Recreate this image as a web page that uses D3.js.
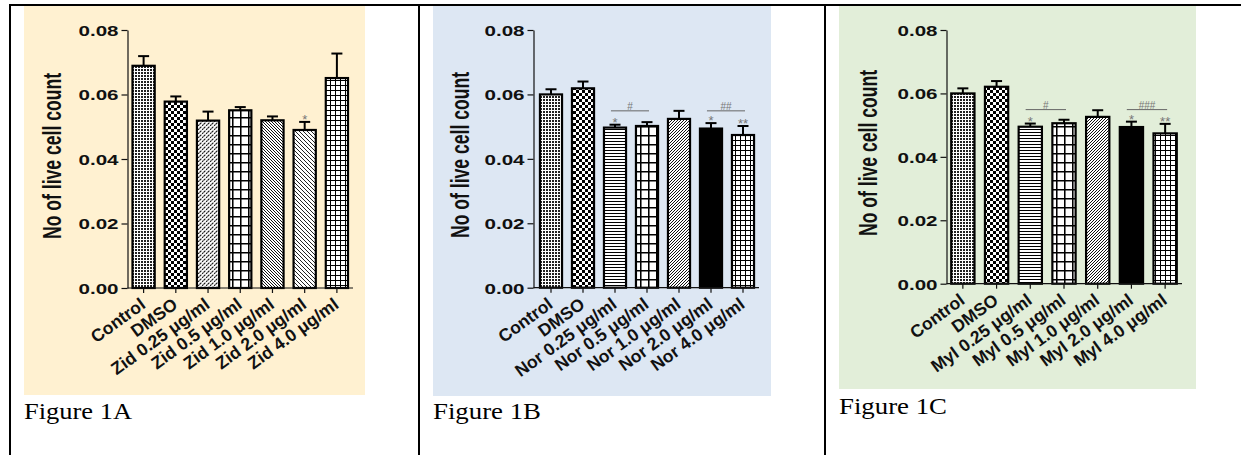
<!DOCTYPE html>
<html>
<head>
<meta charset="utf-8">
<script src="https://cdn.jsdelivr.net/npm/d3@7"></script>
<style>
  body { margin: 0; background: #fff; }
  svg { display: block; }
  .sans { font-family: "Liberation Sans", Arial, Helvetica, sans-serif; }
  .serif { font-family: "Liberation Serif", "Times New Roman", Times, serif; }
</style>
</head>
<body>
<svg id="fig" width="1241" height="455"></svg>
<script>
// group names per figure
var groupsA = ["Control", "DMSO", "Zid 0.25 μg/ml", "Zid 0.5 μg/ml", "Zid 1.0 μg/ml", "Zid 2.0 μg/ml", "Zid 4.0 μg/ml"];
var groupsB = ["Control", "DMSO", "Nor 0.25 μg/ml", "Nor 0.5 μg/ml", "Nor 1.0 μg/ml", "Nor 2.0 μg/ml", "Nor 4.0 μg/ml"];
var groupsC = ["Control", "DMSO", "Myl 0.25 μg/ml", "Myl 0.5 μg/ml", "Myl 1.0 μg/ml", "Myl 2.0 μg/ml", "Myl 4.0 μg/ml"];

// means and SEM
var meanA = [0.0689, 0.0578, 0.0519, 0.0551, 0.0520, 0.0490, 0.0651];
var semA  = [0.0030, 0.0016, 0.0028, 0.0010, 0.0012, 0.0025, 0.0076];
var meanB = [0.0600, 0.0619, 0.0497, 0.0502, 0.0524, 0.0494, 0.0474];
var semB  = [0.0016, 0.0021, 0.0009, 0.0012, 0.0025, 0.0017, 0.0028];
var meanC = [0.0600, 0.0621, 0.0495, 0.0506, 0.0526, 0.0494, 0.0474];
var semC  = [0.0016, 0.0018, 0.0010, 0.0011, 0.0021, 0.0017, 0.0030];

// significance marks
var starsA = ["", "", "", "", "", "*", ""];
var starsB = ["", "", "*", "", "", "*", "**"];
var starsC = ["", "", "*", "", "", "*", "**"];
var hashA = [];
var hashB = [{ from: 2, to: 3, label: "#" }, { from: 5, to: 6, label: "##" }];
var hashC = [{ from: 2, to: 3, label: "#" }, { from: 5, to: 6, label: "###" }];
var hashLevel = 0.0549;

var yTicks = [0, 0.02, 0.04, 0.06, 0.08];
var yLabel = "No of live cell count";
var captions = ["Figure 1A", "Figure 1B", "Figure 1C"];

var patternsA = ["dots", "checker", "dashDiag", "bigGrid", "backDense", "backSparse", "smallGrid"];
var patternsBC = ["dots", "checker", "hLines", "bigGrid", "fwdDense", "solid", "smallGrid"];

var svg = d3.select("#fig");
var defs = svg.append("defs");

// ---- fill patterns -----
function pat(id, w, h) {
  var p = defs.append("pattern").attr("id", id)
    .attr("patternUnits", "userSpaceOnUse")
    .attr("width", w).attr("height", h);
  p.append("rect").attr("width", w).attr("height", h).attr("fill", "#fff");
  return p;
}
var p;
p = pat("dots", 3, 3);
p.append("rect").attr("width", 2).attr("height", 2).attr("fill", "#222");
p = pat("checker", 6, 6);
p.append("rect").attr("width", 3).attr("height", 3).attr("fill", "#000");
p.append("rect").attr("x", 3).attr("y", 3).attr("width", 3).attr("height", 3).attr("fill", "#000");
p = pat("dashDiag", 4, 4);
p.append("path").attr("d", "M0,4L4,0M-1,1L1,-1M3,5L5,3").attr("stroke", "#111").attr("stroke-width", 1.1).attr("stroke-dasharray", "2,1");
p = pat("bigGrid", 8, 9);
p.append("path").attr("d", "M0,0.75H8M0.75,0V9").attr("stroke", "#000").attr("stroke-width", 1.6);
p = pat("backDense", 3, 3);
p.append("path").attr("d", "M0,0L3,3M-1,2L1,4M2,-1L4,1").attr("stroke", "#111").attr("stroke-width", 1);
p = pat("backSparse", 4, 4);
p.append("path").attr("d", "M0,0L4,4M-1,3L1,5M3,-1L5,1").attr("stroke", "#222").attr("stroke-width", 1);
p = pat("smallGrid", 5, 5);
p.append("path").attr("d", "M0,0.5H5M0.5,0V5").attr("stroke", "#000").attr("stroke-width", 1);
p = pat("hLines", 4, 3);
p.append("path").attr("d", "M0,0.5H4").attr("stroke", "#000").attr("stroke-width", 1);
p = pat("fwdDense", 3, 3);
p.append("path").attr("d", "M0,3L3,0M-1,1L1,-1M2,4L4,2").attr("stroke", "#111").attr("stroke-width", 1);

// ---- table frame -----
var frame = svg.append("g").attr("stroke", "#000").attr("stroke-width", 2);
frame.append("line").attr("x1", 9).attr("x2", 1241).attr("y1", 5).attr("y2", 5);
[10, 419, 825].forEach(function (x) {
  frame.append("line").attr("x1", x).attr("x2", x).attr("y1", 4).attr("y2", 455);
});

// ---- panels -----
var panels = [
  { groups: groupsA, mean: meanA, sem: semA, stars: starsA, hash: hashA, fills: patternsA,
    bg: [24, 6, 341, 389], bgColor: "#fff1d1", xRange: [127.5, 353], axisX: 127.5, axisEnd: 353,
    yRange: [288, 30], labelX: 61, labelY: 156, cap: [24, 419] },
  { groups: groupsB, mean: meanB, sem: semB, stars: starsB, hash: hashB, fills: patternsBC,
    bg: [433, 6, 338, 390], bgColor: "#dde7f3", xRange: [535, 759], axisX: 533.5, axisEnd: 759,
    yRange: [287.7, 30], labelX: 469, labelY: 155, cap: [433, 419] },
  { groups: groupsC, mean: meanC, sem: semC, stars: starsC, hash: hashC, fills: patternsBC,
    bg: [839, 6, 357, 383], bgColor: "#e2eed9", xRange: [946, 1182], axisX: 946.5, axisEnd: 1182,
    yRange: [283.7, 30], labelX: 877, labelY: 153, cap: [839, 414] }
];

panels.forEach(function (pn, k) {
  var g = svg.append("g");

  g.append("rect")
    .attr("x", pn.bg[0]).attr("y", pn.bg[1])
    .attr("width", pn.bg[2]).attr("height", pn.bg[3])
    .attr("fill", pn.bgColor);

  var data = pn.groups.map(function (name, i) {
    return { name: name, mean: pn.mean[i], sem: pn.sem[i], star: pn.stars[i], fill: pn.fills[i] };
  });

  var x = d3.scaleBand().domain(pn.groups).range(pn.xRange).paddingInner(0.31).paddingOuter(0.155);
  var y = d3.scaleLinear().domain([0, 0.08]).range(pn.yRange);

  // error bars (drawn first so bar outline sits on top)
  var eb = g.append("g").attr("stroke", "#000").attr("stroke-width", 2);
  data.forEach(function (d) {
    var cx = x(d.name) + x.bandwidth() / 2;
    eb.append("line").attr("x1", cx).attr("x2", cx).attr("y1", y(d.mean)).attr("y2", y(d.mean + d.sem));
    eb.append("line").attr("x1", cx - 5.5).attr("x2", cx + 5.5).attr("y1", y(d.mean + d.sem)).attr("y2", y(d.mean + d.sem));
  });

  g.append("g").selectAll("rect")
    .data(data)
    .enter()
    .append("rect")
    .attr("x", function (d) { return x(d.name); })
    .attr("y", function (d) { return y(d.mean); })
    .attr("width", x.bandwidth())
    .attr("height", function (d) { return y(0) - y(d.mean); })
    .attr("fill", function (d) { return d.fill === "solid" ? "#000" : "url(#" + d.fill + ")"; })
    .attr("stroke", "#000")
    .attr("stroke-width", 2.2);

  // y axis
  var ya = g.append("g")
    .attr("transform", "translate(" + pn.axisX + ",0)")
    .call(d3.axisLeft(y).tickValues(yTicks).tickFormat(d3.format(".2f")).tickSize(6).tickSizeOuter(0));
  ya.attr("font-family", null);
  ya.select(".domain").attr("stroke", "#111").attr("stroke-width", 1.2);
  ya.selectAll(".tick line").attr("stroke", "#111").attr("stroke-width", 1.2);
  ya.selectAll(".tick text")
    .attr("class", "sans")
    .attr("x", -9)
    .attr("dy", "0.36em")
    .attr("font-weight", "bold")
    .attr("font-size", 15)
    .attr("fill", "#111")
    .attr("textLength", 40)
    .attr("lengthAdjust", "spacingAndGlyphs");

  // x axis
  var xa = g.append("g")
    .attr("transform", "translate(0," + y(0) + ")")
    .call(d3.axisBottom(x).tickSize(5).tickSizeOuter(0).tickFormat(""));
  xa.select(".domain").attr("d", "M" + pn.axisX + ",0H" + pn.axisEnd)
    .attr("stroke", "#111").attr("stroke-width", 1.2);
  xa.selectAll(".tick line").attr("stroke", "#111").attr("stroke-width", 1.2);

  // rotated category labels
  data.forEach(function (d) {
    var cx = x(d.name) + x.bandwidth() / 2;
    g.append("text")
      .attr("class", "sans")
      .attr("transform", "translate(" + (cx + 3) + "," + (y(0) + 19) + ") rotate(-36)")
      .attr("text-anchor", "end")
      .attr("font-weight", "bold")
      .attr("font-size", 17.5)
      .attr("fill", "#111")
      .text(d.name);
  });

  // y axis title
  g.append("g")
    .attr("transform", "translate(" + pn.labelX + "," + pn.labelY + ") scale(1.45,1) rotate(-90)")
    .append("text")
    .attr("class", "sans")
    .attr("text-anchor", "middle")
    .attr("font-weight", "bold")
    .attr("font-size", 17.5)
    .attr("fill", "#111")
    .attr("textLength", 166)
    .attr("lengthAdjust", "spacingAndGlyphs")
    .text(yLabel);

  // stars above error bars
  data.forEach(function (d) {
    if (!d.star) return;
    var cx = x(d.name) + x.bandwidth() / 2;
    g.append("text")
      .attr("class", "sans")
      .attr("x", cx)
      .attr("y", y(d.mean + d.sem) + 2)
      .attr("text-anchor", "middle")
      .attr("font-size", 13)
      .attr("fill", "#777")
      .text(d.star);
  });

  // # brackets
  pn.hash.forEach(function (h) {
    var x1 = x(pn.groups[h.from]) + 7;
    var x2 = x(pn.groups[h.to]) + x.bandwidth() / 2 + 2;
    var ly = y(hashLevel);
    g.append("line").attr("x1", x1).attr("x2", x2).attr("y1", ly).attr("y2", ly)
      .attr("stroke", "#666").attr("stroke-width", 1);
    g.append("text")
      .attr("class", "sans")
      .attr("x", (x1 + x2) / 2)
      .attr("y", ly - 1)
      .attr("text-anchor", "middle")
      .attr("font-size", 10)
      .attr("fill", "#777")
      .text(h.label);
  });

  // caption
  svg.append("text")
    .attr("class", "serif")
    .attr("x", pn.cap[0]).attr("y", pn.cap[1])
    .attr("font-size", 24)
    .attr("fill", "#000")
    .attr("textLength", 108)
    .attr("lengthAdjust", "spacingAndGlyphs")
    .text(captions[k]);
});
</script>
</body>
</html>
